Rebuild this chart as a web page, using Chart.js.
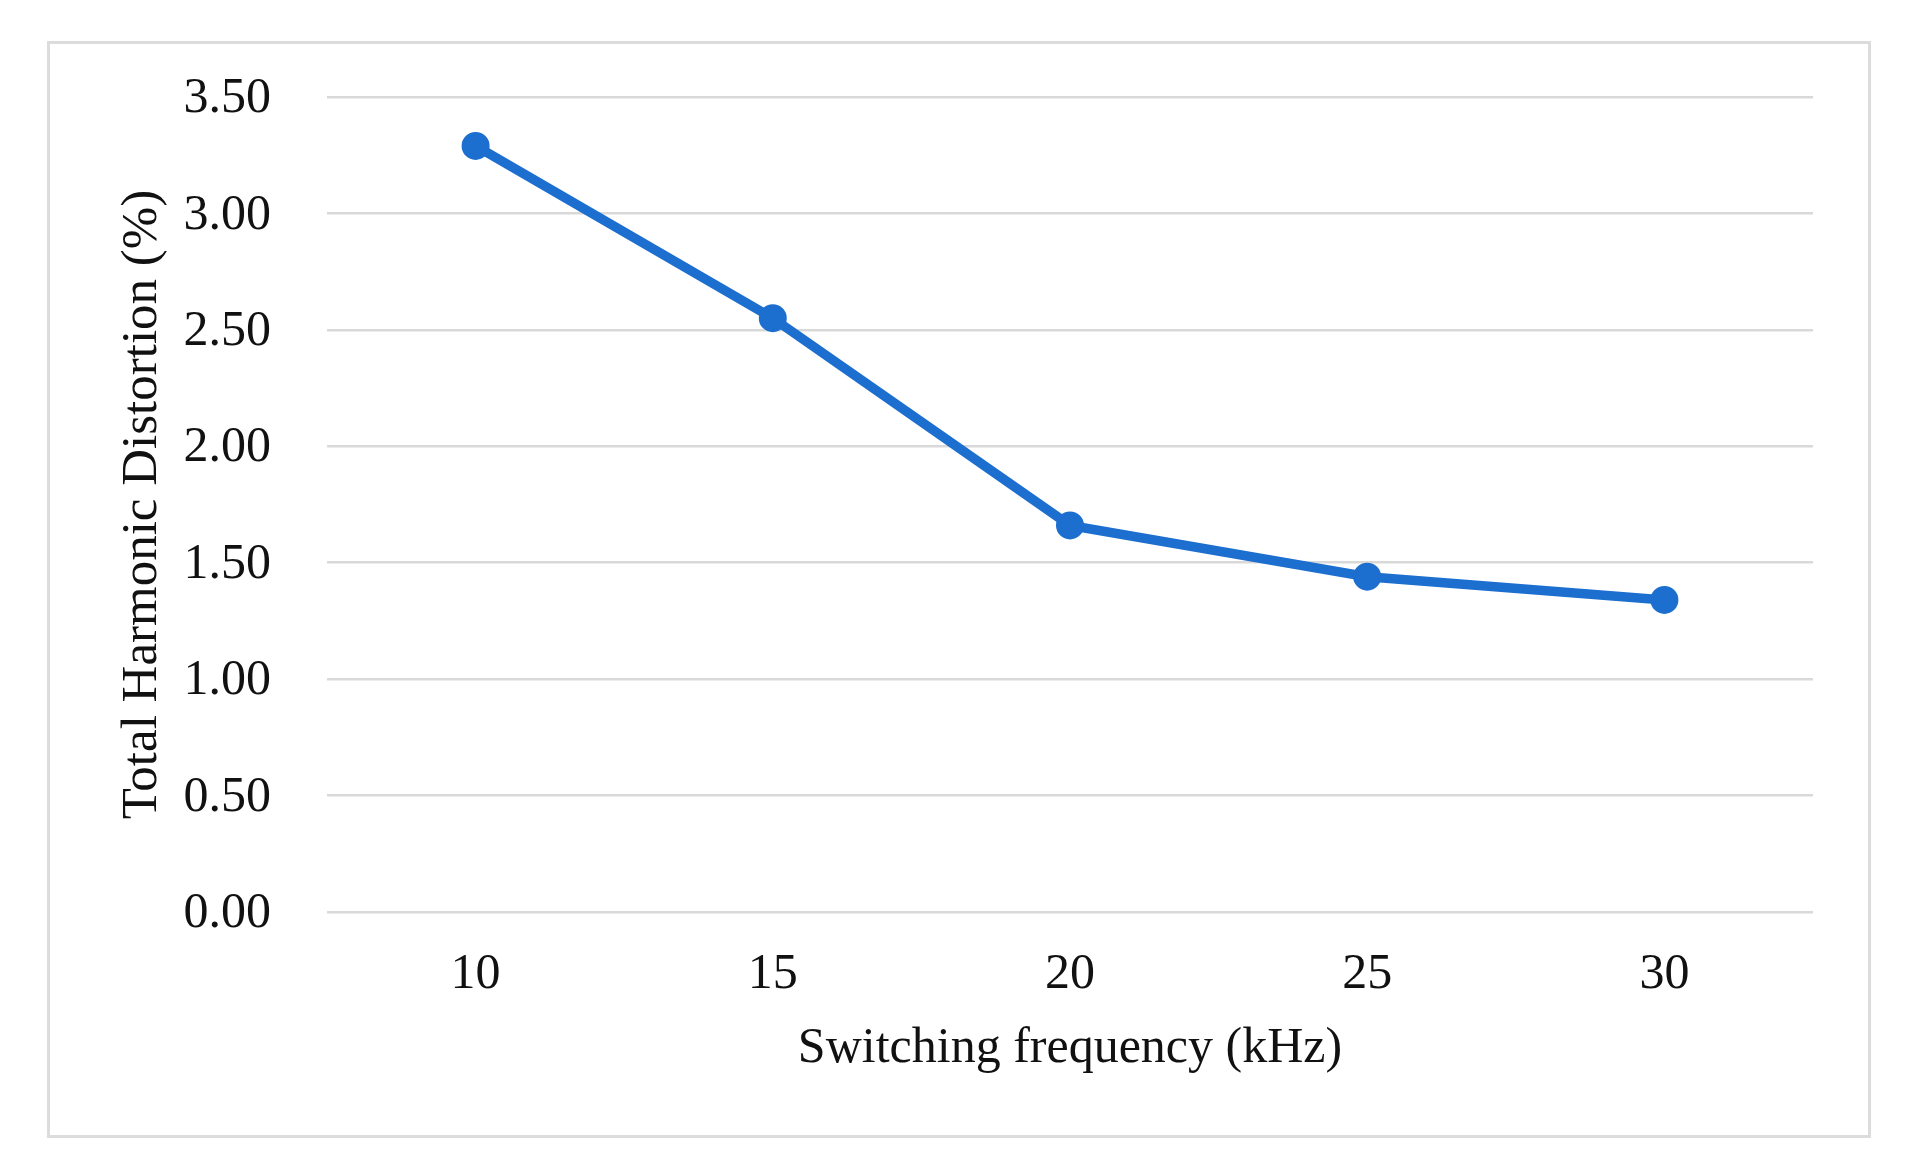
<!DOCTYPE html>
<html>
<head>
<meta charset="utf-8">
<script src="https://cdn.jsdelivr.net/npm/chart.js@4/dist/chart.umd.min.js"></script>
<style>
  html, body { margin: 0; padding: 0; background: #ffffff; }
  body { width: 1913px; height: 1174px; position: relative; overflow: hidden; }
  #frame { position: absolute; left: 47px; top: 41px; width: 1818px; height: 1091px; border: 3px solid #dcdcdc; box-sizing: content-box; }
  #c { position: absolute; left: 0; top: 0; }
</style>
</head>
<body>
<div id="frame"></div>
<canvas id="c" width="1913" height="1174"></canvas>
<script>
const categories = ['10', '15', '20', '25', '30'];
const thdValues = [3.29, 2.55, 1.66, 1.44, 1.34];
const xTitle = 'Switching frequency (kHz)';
const yTitle = 'Total Harmonic Distortion (%)';
const yMin = 0, yMax = 3.5, yStep = 0.5;

const fontFamily = "'Liberation Serif', 'Times New Roman', serif";
const textColor = '#111111';
const lineColor = '#1c6ecf';

new Chart(document.getElementById('c'), {
  type: 'line',
  data: {
    labels: categories,
    datasets: [{
      data: thdValues,
      borderColor: lineColor,
      backgroundColor: lineColor,
      borderWidth: 9.5,
      pointRadius: 12.5,
      pointBorderWidth: 3,
      pointBackgroundColor: lineColor,
      pointBorderColor: lineColor,
      tension: 0,
      fill: false
    }]
  },
  options: {
    responsive: false,
    devicePixelRatio: 1,
    animation: false,
    layout: { padding: { left: 0, top: 97, right: 100, bottom: 0 } },
    plugins: { legend: { display: false }, tooltip: { enabled: false } },
    scales: {
      x: {
        offset: true,
        grid: { display: false, drawTicks: false },
        border: { display: false },
        ticks: { color: textColor, font: { family: fontFamily, size: 50 }, padding: 33, maxRotation: 0 },
        title: { display: true, text: xTitle, color: textColor, font: { family: fontFamily, size: 50 }, padding: { top: 0, bottom: 95 } },
        afterFit: (s) => { s.height = 262; }
      },
      y: {
        min: yMin, max: yMax,
        grid: { color: '#d9d9d9', lineWidth: 2.5, drawTicks: false },
        border: { display: false },
        ticks: {
          stepSize: yStep, color: textColor, font: { family: fontFamily, size: 50 }, padding: 56, labelOffset: 2,
          callback: (v) => Number(v).toFixed(2)
        },
        title: { display: true, text: yTitle, color: textColor, font: { family: fontFamily, size: 51 }, padding: { top: 112, bottom: 0 } },
        afterFit: (s) => { s.width = 327; }
      }
    }
  }
});
</script>
</body>
</html>
